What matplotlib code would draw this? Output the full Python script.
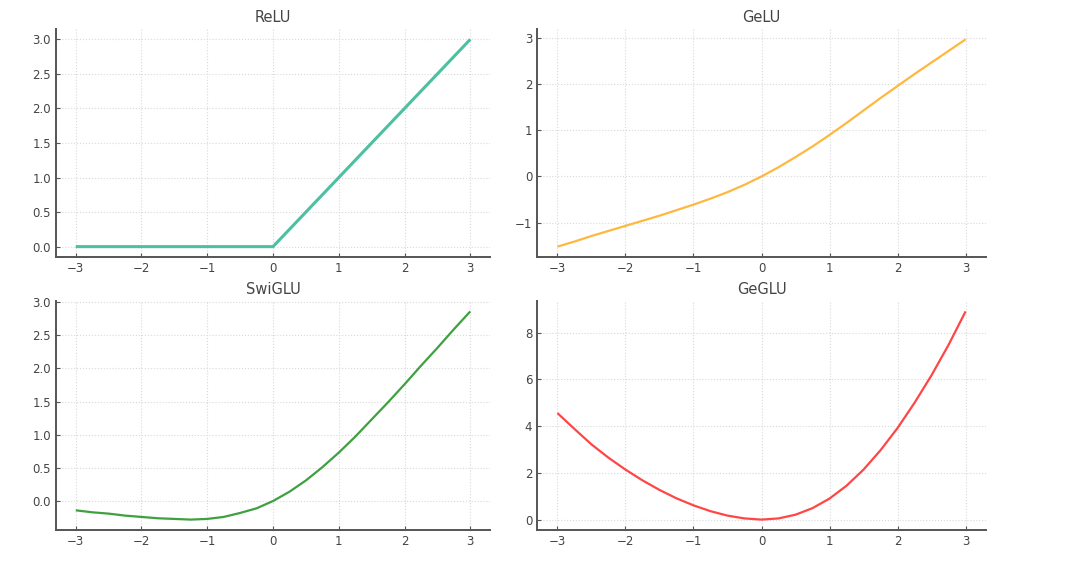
import matplotlib
matplotlib.use("Agg")
import matplotlib.pyplot as plt
import numpy as np

x = [-3.0, -2.75, -2.5, -2.25, -2.0, -1.75, -1.5, -1.25, -1.0, -0.75, -0.5, -0.25,
     0.0, 0.25, 0.5, 0.75, 1.0, 1.25, 1.5, 1.75, 2.0, 2.25, 2.5, 2.75, 3.0]

relu = [0, 0, 0, 0, 0, 0, 0, 0, 0, 0, 0, 0,
        0, 0.25, 0.5, 0.75, 1.0, 1.25, 1.5, 1.75, 2.0, 2.25, 2.5, 2.75, 3.0]

gelu = [-1.52, -1.41, -1.29, -1.18, -1.07, -0.96, -0.85, -0.73, -0.61, -0.48, -0.34, -0.18,
        0.00, 0.20, 0.42, 0.65, 0.90, 1.16, 1.43, 1.70, 1.96, 2.22, 2.47, 2.72, 2.97]

swiglu = [-0.14, -0.17, -0.19, -0.22, -0.24, -0.26, -0.27, -0.28, -0.27, -0.24, -0.18, -0.11,
          0.00, 0.14, 0.31, 0.51, 0.73, 0.97, 1.23, 1.49, 1.76, 2.04, 2.31, 2.59, 2.86]

geglu = [4.56, 3.88, 3.22, 2.65, 2.14, 1.68, 1.27, 0.91, 0.61, 0.36, 0.17, 0.05,
         0.00, 0.05, 0.21, 0.49, 0.90, 1.45, 2.14, 2.97, 3.92, 5.00, 6.18, 7.48, 8.91]

titles = ["ReLU", "GeLU", "SwiGLU", "GeGLU"]
series = [relu, gelu, swiglu, geglu]
colors = ["#4CC0A1", "#FFB83F", "#3FA03F", "#FF4646"]
widths = [2.2, 1.6, 1.6, 1.6]

fig = plt.figure(figsize=(10.8, 5.81), dpi=100)
W, H = 1080, 581
boxes = [(56, 29, 490, 257), (537, 29, 986, 257),
         (56, 301, 490, 530), (537, 301, 986, 530)]

for (l, t, r, b), title, ys, c, lw in zip(boxes, titles, series, colors, widths):
    ax = fig.add_axes([l / W, 1 - b / H, (r - l) / W, (b - t) / H])
    ax.plot(x, ys, color=c, linewidth=lw, solid_capstyle="butt", solid_joinstyle="round")
    ax.set_title(title, fontsize=10.5, color="#444444", pad=5)
    for s in ["top", "right"]:
        ax.spines[s].set_visible(False)
    for s in ["left", "bottom"]:
        ax.spines[s].set_color("#555555")
        ax.spines[s].set_linewidth(1.4)
    ax.grid(True, linestyle=":", color="#d9d9d9", linewidth=0.8)
    ax.set_axisbelow(True)
    ax.tick_params(direction="in", length=3, width=0.8, colors="#555555",
                   labelsize=8.5, labelcolor="#444444")
    ax.set_xticks([-3, -2, -1, 0, 1, 2, 3])

fig.savefig("out.png", dpi=100)
